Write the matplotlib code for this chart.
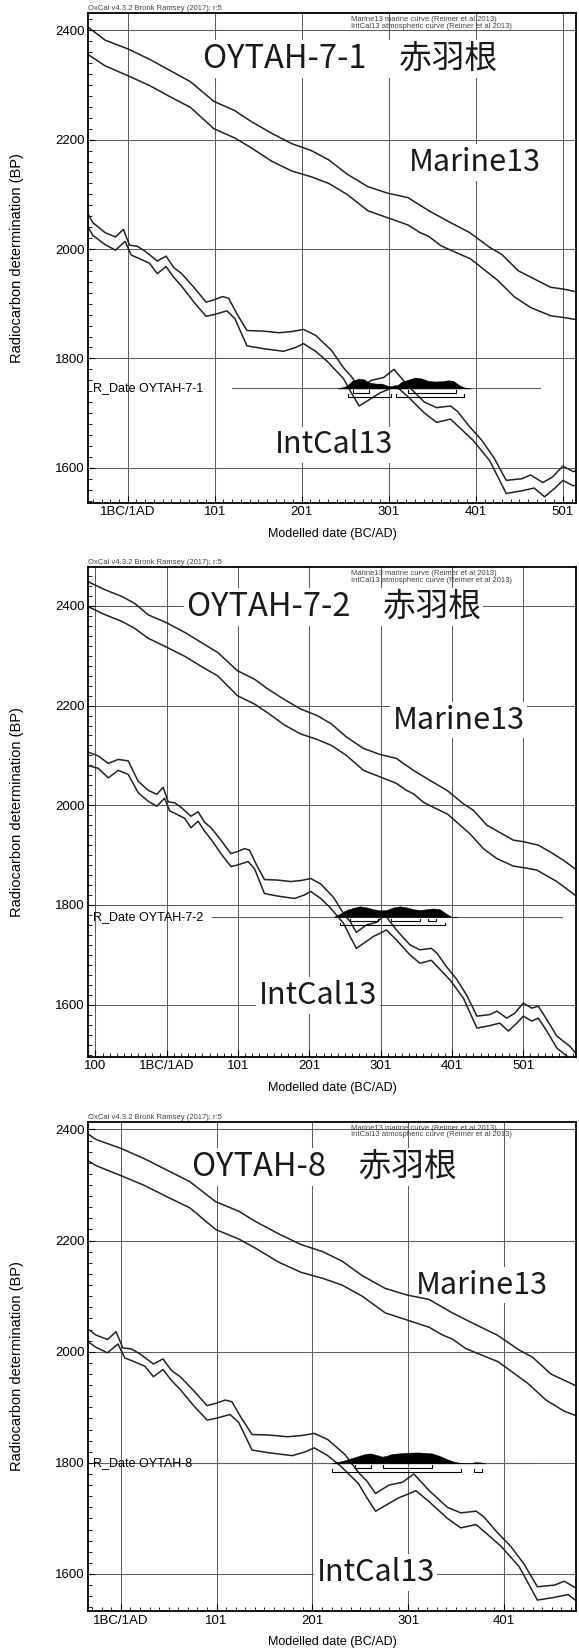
import numpy as np
import matplotlib
matplotlib.use("Agg")
import matplotlib.pyplot as plt
from matplotlib.ticker import MultipleLocator, FixedLocator

plt.rcParams['font.family'] = ['Liberation Sans', 'DejaVu Sans']

# calibration curves, upper / lower edge of the 1 sigma band (cal AD, BP)
marine_hi_year = [-110, -85, -62, -44, -25, 1, 26, 49, 73, 100, 124, 142, 166, 189, 212, 232,
                  253, 277, 300, 323, 347, 370, 394, 417, 431, 450, 487, 501, 522, 538, 557, 578]
marine_hi_bp = [2449, 2432, 2419, 2405, 2382, 2366, 2347, 2327, 2306, 2270, 2253, 2234, 2212, 2193, 2180, 2163,
                2137, 2114, 2102, 2094, 2070, 2050, 2030, 2003, 1990, 1960, 1930, 1927, 1920, 1907, 1890, 1868]
marine_lo_year = [-110, -85, -62, -44, -25, 1, 26, 49, 73, 100, 124, 142, 166, 189, 212, 232, 253,
                  277, 300, 323, 337, 347, 361, 372, 395, 426, 445, 464, 487, 501, 520, 548, 578]
marine_lo_bp = [2399, 2382, 2369, 2355, 2335, 2317, 2299, 2279, 2259, 2220, 2203, 2186, 2161, 2143, 2132, 2120, 2100,
                2070, 2057, 2044, 2030, 2023, 2006, 1998, 1982, 1943, 1913, 1893, 1878, 1875, 1870, 1847, 1815]
intcal_hi_year = [-110, -95, -81, -67, -53, -39, -25, -13, -4, 3, 12, 21, 35, 45, 54, 63, 77, 91, 100, 110,
                  117, 126, 138, 156, 175, 189, 203, 217, 235, 249, 258, 267, 281, 295, 307, 323, 342, 356, 372, 380,
                  394, 408, 422, 436, 454, 464, 478, 489, 501, 513, 522, 534, 548, 566, 578]
intcal_hi_bp = [2107, 2099, 2084, 2092, 2089, 2048, 2030, 2022, 2036, 2007, 2005, 1996, 1978, 1987, 1966, 1955, 1930, 1903, 1907, 1913,
                1910, 1883, 1851, 1850, 1847, 1849, 1853, 1842, 1815, 1783, 1767, 1745, 1760, 1765, 1780, 1750, 1720, 1710, 1713, 1703,
                1675, 1650, 1618, 1577, 1580, 1587, 1573, 1583, 1603, 1593, 1597, 1570, 1537, 1517, 1497]
intcal_lo_year = [-110, -95, -81, -67, -53, -39, -25, -13, -2, 5, 15, 26, 35, 45, 54, 63, 77, 91, 100, 115,
                  124, 138, 156, 180, 194, 203, 217, 230, 249, 258, 267, 277, 291, 300, 309, 323, 342, 356, 372, 380,
                  398, 417, 436, 454, 468, 480, 492, 501, 513, 522, 534, 548, 562, 578]
intcal_lo_bp = [2080, 2074, 2055, 2070, 2062, 2025, 2008, 1998, 2014, 1989, 1982, 1974, 1955, 1968, 1948, 1932, 1903, 1877, 1880, 1887,
                1873, 1823, 1818, 1813, 1820, 1827, 1813, 1795, 1763, 1737, 1713, 1723, 1737, 1743, 1750, 1730, 1700, 1683, 1689, 1677,
                1650, 1613, 1553, 1558, 1563, 1547, 1563, 1577, 1567, 1573, 1547, 1513, 1497, 1478]

# samples
site = "赤羽根"
sample_names = ["OYTAH-7-1", "OYTAH-7-2", "OYTAH-8"]
rdate_bp = [1745, 1776, 1799]

# calibrated probability (relative)
prob1_year = [242, 252, 259, 267, 273, 278, 286, 293, 299, 305, 310, 316, 324, 331, 339, 346, 354, 361, 369, 375, 382, 388, 396]
prob1 = [0, .21, .70, .91, .82, .55, .45, .45, .27, .18, .27, .61, .82, 1.0, .91, .70, .64, .66, .75, .70, .30, .09, 0]
prob2_year = [235, 244, 253, 263, 272, 281, 291, 300, 309, 319, 328, 337, 347, 356, 365, 375, 384, 393, 400, 408]
prob2 = [0, .3, .63, .83, .97, .87, .7, .6, .63, .87, .97, .87, .7, .63, .7, .77, .7, .3, .03, 0]
prob3_year = [221, 233, 245, 256, 262, 268, 274, 278, 284, 291, 299, 311, 318, 326, 334, 342, 349, 357, 365, 371, 377, 382]
prob3 = [0, .24, .56, .86, .91, .77, .62, .68, .86, .91, .97, 1.0, .97, .91, .68, .38, .15, .03, 0, .12, .09, 0]

range68 = [[(260, 278), (323, 378)], [(258, 297), (316, 356), (367, 379)], [(245, 262), (275, 326)]]
range95 = [[(254, 303), (309, 388)], [(244, 391)], [(221, 356), (370, 378)]]

# x axis ticks
xtick_pos = [[1, 101, 201, 301, 401, 501], [-99, 1, 101, 201, 301, 401, 501], [1, 101, 201, 301, 401]]
xtick_lab = [["1BC/1AD", "101", "201", "301", "401", "501"],
             ["100", "1BC/1AD", "101", "201", "301", "401", "501"],
             ["1BC/1AD", "101", "201", "301", "401"]]

# layout (pixels)
FIG_W, FIG_H = 579, 1652
AX_L, AX_W, AX_H = 88.3, 487.4, 489.5
panel_top = [13.3, 567.0, 1121.7]
panel_xlim = [(-44.3, 515.8), (-109, 574.5), (-33, 476)]
panel_ylim = [(1536, 2431), (1496, 2478), (1533, 2414)]
rline = [(121, 475), (64, 555), (78, 430)]
title_xy = [(256, 2348), (235, 2398), (213, 2333)]
marine_xy = [(400, 2158), (410, 2171), (378, 2120)]
intcal_xy = [(238, 1642), (213, 1618), (267, 1603)]

big_font = ['Noto Sans CJK JP', 'DejaVu Sans']
ink = '#222222'

fig = plt.figure(figsize=(FIG_W / 100, FIG_H / 100), dpi=100)

for i in range(3):
    top = panel_top[i]
    ax = fig.add_axes([AX_L / FIG_W, 1 - (top + AX_H) / FIG_H, AX_W / FIG_W, AX_H / FIG_H])
    y0, y1 = panel_ylim[i]
    ax.set_xlim(*panel_xlim[i])
    ax.set_ylim(y0, y1)
    upp = (y1 - y0) / AX_H  # BP units per pixel

    ax.xaxis.set_major_locator(FixedLocator(xtick_pos[i]))
    ax.set_xticklabels(xtick_lab[i])
    ax.xaxis.set_minor_locator(FixedLocator(np.arange(-199, 600, 10)))
    ax.yaxis.set_major_locator(MultipleLocator(200))
    ax.yaxis.set_minor_locator(MultipleLocator(20))
    ax.grid(True, which='major', color='#5e5e5e', lw=0.75)
    ax.tick_params(which='both', direction='in', top=False, right=False, labelsize=9.5)
    ax.tick_params(which='major', length=5, width=0.8, pad=2.5)
    ax.tick_params(which='minor', length=3, width=0.6)
    for sp in ax.spines.values():
        sp.set_linewidth(1.3)
        sp.set_zorder(6)

    ax.set_xlabel("Modelled date (BC/AD)", fontsize=9)
    ax.set_ylabel("Radiocarbon determination (BP)", fontsize=10.5)
    ax.xaxis.set_label_coords(0.5, -25 / AX_H)
    ax.yaxis.set_label_coords(-64 / AX_W, 0.5)

    # curves
    for xs, ys in [(marine_hi_year, marine_hi_bp), (marine_lo_year, marine_lo_bp),
                   (intcal_hi_year, intcal_hi_bp), (intcal_lo_year, intcal_lo_bp)]:
        ax.plot(xs, ys, color=ink, lw=1.1, zorder=4)

    # R_Date
    base = rdate_bp[i]
    ax.plot(rline[i], [base, base], color='#606060', lw=0.8, zorder=4)
    ax.text(5 / AX_W, base, "R_Date " + sample_names[i], transform=ax.get_yaxis_transform(),
            fontsize=9, va='center', ha='left', zorder=7)
    px = [prob1_year, prob2_year, prob3_year][i]
    pv = np.array([prob1, prob2, prob3][i])
    ax.fill_between(px, base, base + pv * 11 * upp, color='black', lw=0.3, zorder=5)
    for rngs, off in [(range68[i], 4.5), (range95[i], 8.5)]:
        yb = base - off * upp
        for a, b in rngs:
            ax.plot([a, a, b, b], [yb + 2.5 * upp, yb, yb, yb + 2.5 * upp], color='black', lw=0.8, zorder=5)

    # labels
    ax.text(*title_xy[i], sample_names[i] + "\u3000" + site, family=big_font, fontsize=23.5, color='#1a1a1a',
            ha='center', va='center', zorder=3,
            bbox=dict(facecolor='white', edgecolor='none', pad=2))
    ax.text(*marine_xy[i], "Marine13", family=big_font, fontsize=22, color='#1a1a1a',
            ha='center', va='center', zorder=3, bbox=dict(facecolor='white', edgecolor='none', pad=2))
    ax.text(*intcal_xy[i], "IntCal13", family=big_font, fontsize=22, color='#1a1a1a',
            ha='center', va='center', zorder=3, bbox=dict(facecolor='white', edgecolor='none', pad=2))

    ax.text(0, 1 + 1 / AX_H, "OxCal v4.3.2 Bronk Ramsey (2017); r:5", transform=ax.transAxes,
            fontsize=5.5, color='#444444', ha='left', va='bottom')
    ax.text(0.538, 1 - 3 / AX_H, "Marine13 marine curve (Reimer et al 2013)\nIntCal13 atmospheric curve (Reimer et al 2013)",
            transform=ax.transAxes, fontsize=5.5, color='#444444', ha='left', va='top', linespacing=0.9, zorder=7)

fig.savefig("out.png", dpi=100)
